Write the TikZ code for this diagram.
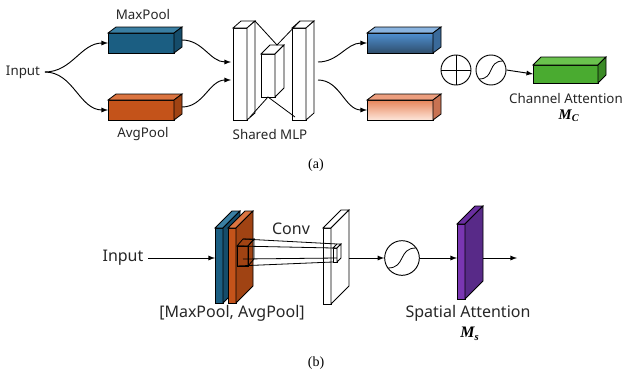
\documentclass[tikz,border=0pt]{standalone}
\usepackage{fontspec}
\setmainfont{Noto Sans}
\newfontfamily\capfont{Liberation Serif}
\usetikzlibrary{calc,positioning}

\definecolor{maxfront}{HTML}{1B5E82}
\definecolor{maxtop}{HTML}{3A7FA3}
\definecolor{maxside}{HTML}{154C6A}
\definecolor{avgfront}{HTML}{C4531A}
\definecolor{avgtop}{HTML}{DB7440}
\definecolor{avgside}{HTML}{A04313}
\definecolor{outblue}{HTML}{4F90D2}
\definecolor{outbluedark}{HTML}{2F4E6C}
\definecolor{outbluetop}{HTML}{8AB4E0}
\definecolor{outblueside}{HTML}{3A6A9A}
\definecolor{peach}{HTML}{E8845A}
\definecolor{peachlight}{HTML}{FDE6DA}
\definecolor{peachtop}{HTML}{EC9E7E}
\definecolor{peachside}{HTML}{C87252}
\definecolor{greenfront}{HTML}{4AAB30}
\definecolor{greentop}{HTML}{6AC24E}
\definecolor{greenside}{HTML}{3A8A25}
\definecolor{purplefront}{HTML}{7A36B2}
\definecolor{purpletop}{HTML}{6A2FA0}
\definecolor{purpleside}{HTML}{582A88}

% top and right faces of a box whose front face is a node
\newcommand{\cubefaces}[5]{%
  \filldraw[fill=#4] (#1.north west) -- ++(#2,-#3) -- ($(#1.north east)+(#2,-#3)$) -- (#1.north east) -- cycle;
  \filldraw[fill=#5] (#1.north east) -- ++(#2,-#3) -- ($(#1.south east)+(#2,-#3)$) -- (#1.south east) -- cycle;}

\tikzset{
  lbl/.style={font=\fontsize{10}{12}\selectfont, text=black!85},
  lblb/.style={font=\fontsize{12}{14}\selectfont, text=black!85},
  mapsym/.style={font=\capfont\bfseries\itshape\fontsize{12}{14}\selectfont},
  subcap/.style={font=\capfont\fontsize{10.5}{12}\selectfont},
  face/.style={draw, inner sep=0, outer sep=0},
  conn/.style={->, >=latex, line width=0.7pt},
  op/.style={draw, circle, line width=0.7pt, inner sep=0},
}

\begin{document}
\begin{tikzpicture}[x=0.75pt, y=-0.75pt, line width=0.6pt]
\useasboundingbox (0,0) rectangle (626,375);

% ---------------- (a) channel attention
\node[lbl] (inA) at (23,72) {Input};
\node[face, fill=maxfront, minimum width=49.5pt, minimum height=15pt] (maxp) at (141,43) {};
\cubefaces{maxp}{8}{6}{maxtop}{maxside}
\node[lbl] (maxlbl) at (143,14) {MaxPool};
\node[face, fill=avgfront, minimum width=49.5pt, minimum height=15pt] (avgp) at (141,110) {};
\cubefaces{avgp}{8}{6}{avgtop}{avgside}
\node[lbl] (avglbl) at (143,134) {AvgPool};

\node[face, fill=white, minimum width=10.5pt, minimum height=69pt] (mlpL) at (240,74) {};
\cubefaces{mlpL}{8}{7}{white}{white}
\node[face, fill=white, minimum width=10.5pt, minimum height=32.25pt] (mlpM) at (268,75.5) {};
\cubefaces{mlpM}{9}{9}{white}{white}
\node[face, fill=white, minimum width=10.5pt, minimum height=69pt] (mlpR) at (299,74) {};
\cubefaces{mlpR}{8}{7}{white}{white}
\draw ($(mlpL.north east)+(8,-7)$) -- ($(mlpM.north)+(9,-9)$) -- ($(mlpR.north west)+(8,-7)$);
\draw ($(mlpL.south east)+(3,-3)$) -- (mlpM.south) -- ($(mlpR.south west)+(3,-3)$);
\node[lbl] (mlplbl) at (270,134) {Shared MLP};

\node[face, top color=outblue, bottom color=outbluedark, minimum width=49.5pt, minimum height=15pt] (outmax) at (400,43) {};
\cubefaces{outmax}{8}{6}{outbluetop}{outblueside}
\node[face, top color=peach, bottom color=peachlight, minimum width=49.5pt, minimum height=15pt] (outavg) at (400,110) {};
\cubefaces{outavg}{8}{6}{peachtop}{peachside}

\node[op, minimum size=22.5pt,
  path picture={\draw (path picture bounding box.north) -- (path picture bounding box.south);
                \draw (path picture bounding box.west) -- (path picture bounding box.east);}] (plus) at (456,70) {};
\node[op, minimum size=22.5pt] (sigA) at (491,70) {};
\draw ($(sigA.center)+(-12,9)$) .. controls +(16,0) and +(-16,0) .. ($(sigA.center)+(12,-9)$);

\node[face, fill=greenfront, minimum width=48.75pt, minimum height=13.5pt] (chatt) at (565.5,74) {};
\cubefaces{chatt}{8}{8}{greentop}{greenside}
\node[lbl] (chlbl) at (566,98) {Channel Attention};
\node[mapsym, font=\capfont\bfseries\itshape\fontsize{11}{13}\selectfont] (mclbl) at (569,116) {M\textsubscript{C}};

\coordinate (mlpin1) at (231,62);
\coordinate (mlpin2) at (231,80);
\coordinate (mlpout1) at (318,62);
\coordinate (mlpout2) at (318,80);
\draw[conn] (inA.east) to[out=0,in=180] (maxp.west);
\draw[conn] (inA.east) to[out=0,in=180] (avgp.west);
\draw[conn] ($(maxp.east)+(8,-3)$) to[out=0,in=180] (mlpin1);
\draw[conn] ($(avgp.east)+(8,-3)$) to[out=0,in=180] (mlpin2);
\draw[conn] (mlpout1) to[out=0,in=180] (outmax.west);
\draw[conn] (mlpout2) to[out=0,in=180] (outavg.west);
\draw[conn] (sigA.east) -- (chatt.west);

\node[subcap] (capA) at (316,165) {(a)};

% ---------------- (b) spatial attention
\node[lblb] (inB) at (123,258) {Input};
\node[face, fill=maxfront, minimum width=6pt, minimum height=56.25pt] (slabmax) at (219,265.5) {};
\cubefaces{slabmax}{17}{17}{maxtop}{maxside}
\node[face, fill=avgfront, minimum width=6pt, minimum height=56.25pt] (slabavg) at (232,265.5) {};
\cubefaces{slabavg}{17}{17}{avgtop}{avgside}
\node[face, minimum width=8.25pt, minimum height=15pt] (kern) at (242.5,256) {};
\cubefaces{kern}{6}{7}{none}{none}
\node[lblb] (poollbl) at (232,313) {[MaxPool, AvgPool]};

\node[face, fill=white, minimum width=6pt, minimum height=57pt] (conv) at (327,266) {};
\cubefaces{conv}{18}{18}{white}{white}
\node[lblb] (convlbl) at (291,229) {Conv};
\node[face, fill=white, minimum width=3pt, minimum height=10.5pt] (tgt) at (335,255) {};
\draw ($(kern.north west)+(6,-7)$) -- ($(tgt.north west)+(4,-4)$);
\draw (kern.north west) -- (tgt.north west);
\draw (kern.south west) -- (tgt.south west);
\draw ($(kern.south west)+(6,-7)$) -- ($(tgt.south west)+(4,-4)$);
\cubefaces{tgt}{4}{4}{white}{white}

\node[op, minimum size=26pt] (sigB) at (402,258) {};
\draw ($(sigB.center)+(-14,10)$) .. controls +(18,0) and +(-18,0) .. ($(sigB.center)+(14,-10)$);

\node[face, fill=purplefront, minimum width=6pt, minimum height=56.25pt] (spatt) at (461,261.5) {};
\cubefaces{spatt}{18}{18}{purpletop}{purpleside}
\node[lblb] (splbl) at (468,313) {Spatial Attention};
\node[mapsym] (mslbl) at (470,334) {M\textsubscript{s}};

\coordinate (convout) at (349,258);
\coordinate (spout) at (483,258);
\coordinate (spend) at (517,258);
\draw[conn] (inB.east) -- (inB.east -| slabmax.west);
\draw[conn] (convout) -- (sigB.west);
\draw[conn] (sigB.east) -- (sigB.east -| spatt.west);
\draw[conn] (spout) -- (spend);

\node[subcap] (capB) at (316,363) {(b)};
\end{tikzpicture}
\end{document}
